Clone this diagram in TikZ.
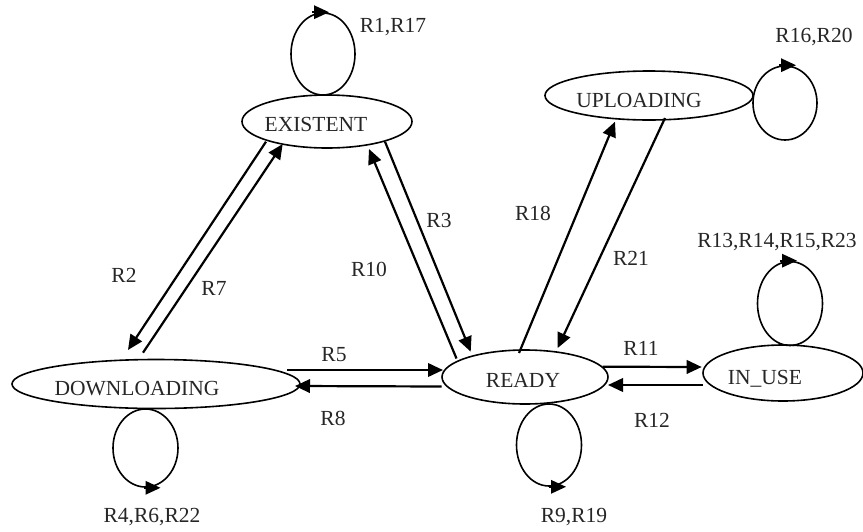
\documentclass[tikz,border=0pt]{standalone}
\usepackage{fontspec}
\setmainfont{Liberation Serif}
\usetikzlibrary{shapes.geometric,arrows.meta,calc}
\begin{document}
\begin{tikzpicture}[x=1pt,y=-1pt,
  st/.style={ellipse,draw,line width=1.6pt,inner sep=0pt},
  lp/.style={ellipse,draw,line width=1.6pt,inner sep=0pt},
  tx/.style={anchor=base,inner sep=0pt,text=black!85,font=\fontsize{21.5}{25}\selectfont},
  lb/.style={inner sep=0pt,text=black!85,font=\fontsize{21.5}{25}\selectfont},
  ar/.style={line width=2.2pt,-{Triangle[length=15pt,width=13.5pt]}},
  hd/.style={line width=1.6pt,-{Triangle[length=15pt,width=13.5pt]}}]
\useasboundingbox (0,0) rectangle (863,531);
% states
\node[st,minimum width=170pt,minimum height=53pt] (ex) at (327,121.5) {};
\node[st,minimum width=208pt,minimum height=49pt] (up) at (649,95.5) {};
\node[st,minimum width=288pt,minimum height=49pt] (dl) at (156,384) {};
\node[st,minimum width=166pt,minimum height=54pt] (rd) at (525,377) {};
\node[st,minimum width=160pt,minimum height=56pt] (iu) at (783,373) {};
\node[tx] (tex) at (316,131.7) {EXISTENT};
\node[tx] (tup) at (639,107) {UPLOADING};
\node[tx] (tdl) at (137,395) {DOWNLOADING};
\node[tx] (trd) at (523,387) {READY};
\node[tx] (tiu) at (765,384) {IN\_USE};
% self loops
\node[lp,minimum width=64pt,minimum height=82pt] (lex) at (323,54) {};
\node[lp,minimum width=64pt,minimum height=74pt] (lup) at (785,103) {};
\node[lp,minimum width=65pt,minimum height=78pt] (ldl) at (145.5,448) {};
\node[lp,minimum width=65pt,minimum height=82pt] (lrd) at (549,445) {};
\node[lp,minimum width=65pt,minimum height=84pt] (liu) at (790,303.5) {};
\draw[hd] ([xshift=-11pt]lex.north) -- ([xshift=6pt]lex.north);
\draw[hd] ([xshift=-6pt]lup.north) -- ([xshift=11pt]lup.north);
\draw[hd] ([xshift=-2pt]ldl.south) -- ([xshift=15pt]ldl.south);
\draw[hd] ([xshift=0pt]lrd.south) -- ([xshift=17pt]lrd.south);
\draw[hd] ([xshift=-10pt]liu.north) -- ([xshift=7pt]liu.north);
% transitions
\draw[ar] ($(ex)+(-61,20.2)$) -- ($(dl)+(-28,-34)$);
\draw[ar] ($(dl)+(-13,-31.3)$) -- ($(ex)+(-44.3,22.5)$);
\draw[ar] ($(rd)+(-68.5,-18.5)$) -- ($(ex)+(42,27.5)$);
\draw[ar] ($(ex)+(58,20.2)$) -- ($(rd)+(-54.3,-25.3)$);
\draw[ar] ($(dl)+(131,-14)$) -- ($(rd)+(-82,-7)$);
\draw[ar] ($(rd)+(-83.3,9.5)$) -- ($(dl)+(139,2)$);
\draw[ar] ($(rd)+(-6,-24)$) -- ($(up)+(-34,26.2)$);
\draw[ar] ($(up)+(16,22.5)$) -- ($(rd)+(32.7,-29)$);
\draw[ar] ($(rd)+(77.7,-10.3)$) -- ($(iu)+(-81.3,-6)$);
\draw[ar] ($(iu)+(-80,12)$) -- ($(rd)+(83,8)$);
% labels
\node[lb] (l1) at (393,27) {R1,R17};
\node[lb] (l2) at (814,37) {R16,R20};
\node[lb] (l3) at (777,242) {R13,R14,R15,R23};
\node[lb] (l4) at (152,517) {R4,R6,R22};
\node[lb] (l5) at (574,517) {R9,R19};
\node[lb] (l6) at (124,275) {R2};
\node[lb] (l7) at (214,288) {R7};
\node[lb] (l8) at (369,269) {R10};
\node[lb] (l9) at (439,220) {R3};
\node[lb] (l10) at (533,213) {R18};
\node[lb] (l11) at (631,258) {R21};
\node[lb] (l12) at (334,355) {R5};
\node[lb] (l13) at (333,418) {R8};
\node[lb] (l14) at (641,348) {R11};
\node[lb] (l15) at (652,420) {R12};
\end{tikzpicture}
\end{document}
